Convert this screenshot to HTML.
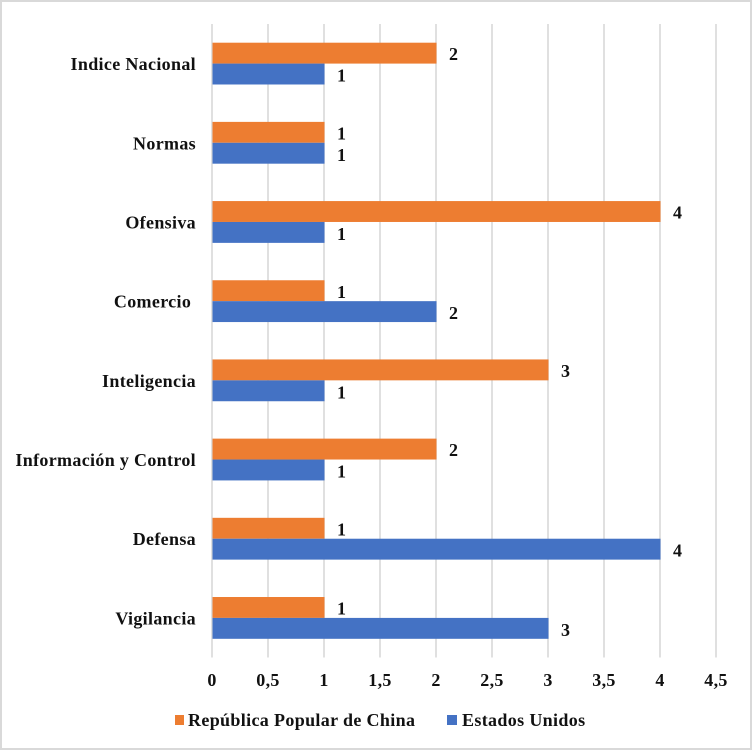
<!DOCTYPE html>
<html lang="es">
<head>
<meta charset="utf-8">
<title>Chart</title>
<style>
html,body{margin:0;padding:0;background:#fff}
#chart{display:block;width:752px;height:750px}
text{font-family:"Liberation Serif",serif;font-weight:bold;fill:#111;font-size:18px}
</style>
</head>
<body>
<svg id="chart" xmlns="http://www.w3.org/2000/svg" width="752" height="750" viewBox="0 0 752 750"></svg>
<script>
const categories = ["Indice Nacional","Normas","Ofensiva","Comercio ","Inteligencia","Información y Control","Defensa","Vigilancia"];
const chinaValues = [2,1,4,1,3,2,1,1];
const usaValues = [1,1,1,2,1,1,4,3];
const tickValues = [0,0.5,1,1.5,2,2.5,3,3.5,4,4.5];
const tickLabels = ["0","0,5","1","1,5","2","2,5","3","3,5","4","4,5"];
const seriesNames = ["República Popular de China","Estados Unidos"];

const NS = "http://www.w3.org/2000/svg";
const svg = document.getElementById("chart");
const plot = {left:212.5, top:24, bottom:657.5, unit:112};
const xScale = v => plot.left + v * plot.unit;
const bandH = (plot.bottom - plot.top) / categories.length;
const bandY = i => plot.top + bandH * i;
const barH = 20.9;
const ORANGE = "#ed7d31", BLUE = "#4472c4", GRID = "#d9d9d9";

function make(tag, attrs, txt){
  const el = document.createElementNS(NS, tag);
  for (const k in attrs) el.setAttribute(k, attrs[k]);
  if (txt !== undefined) el.textContent = txt;
  svg.appendChild(el);
  return el;
}

const frame = make("rect",{x:1,y:1,width:750,height:748,fill:"#fff",stroke:GRID,"stroke-width":2});



tickValues.forEach((v,i)=>{
  const line = make("line",{x1:xScale(v)-0.5,x2:xScale(v)-0.5,y1:plot.top,y2:plot.bottom,stroke:GRID,"stroke-width":1.6});
  
  
  const t = make("text",{x:xScale(v)-0.5,y:686,"text-anchor":"middle","letter-spacing":"0.3"},tickLabels[i]);
  
  
});

function drawBar(value, y, color, series, i){
  const w = xScale(value) - plot.left;
  const r = make("rect",{x:plot.left,y:y,width:w,height:barH,fill:color});
  
  
  const t = make("text",{x:xScale(value)+17,y:y+(series==='usa'?18:17.5),"text-anchor":"middle"},String(value));
  
  
}

categories.forEach((c,i)=>{
  const mid = bandY(i) + bandH/2;
  const lab = make("text",{x:196,y:mid+6.5,"text-anchor":"end","letter-spacing":"0.33",style:"white-space:pre"},c);
  
  
  drawBar(chinaValues[i], mid-barH, ORANGE, 'china', i);
  drawBar(usaValues[i], mid, BLUE, 'usa', i);
});

const k1 = make("rect",{x:175,y:715,width:9,height:10,fill:ORANGE});


const l1 = make("text",{x:188,y:726,"letter-spacing":"0.35"},seriesNames[0]);


const k2 = make("rect",{x:447,y:715,width:10,height:10,fill:BLUE});


const l2 = make("text",{x:462,y:726,"letter-spacing":"0.35"},seriesNames[1]);


</script>
</body>
</html>
